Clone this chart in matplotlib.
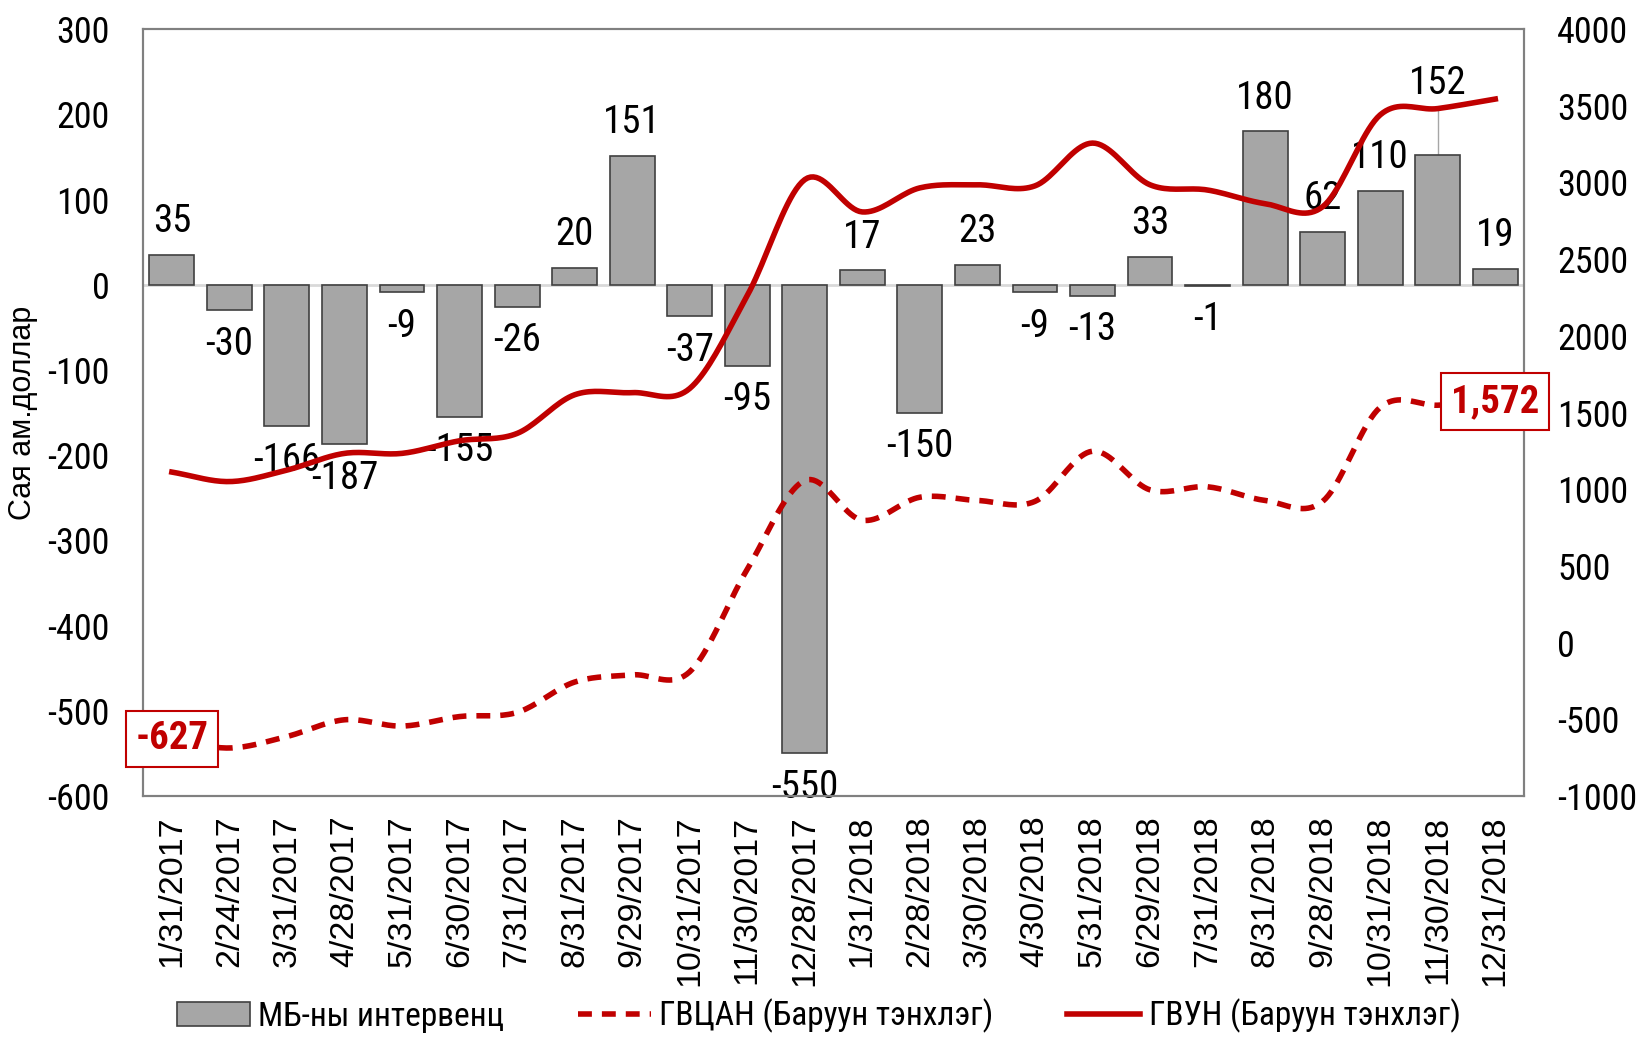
import numpy as np
import matplotlib
matplotlib.use('Agg')
import matplotlib.pyplot as plt
from matplotlib import font_manager
from matplotlib.font_manager import FontProperties
from matplotlib.lines import Line2D
from matplotlib.patches import Patch

installed = {f.name for f in font_manager.fontManager.ttflist}
NARROW = [f for f in ['Liberation Sans Narrow', 'Arial Narrow', 'Roboto Condensed',
                      'PT Sans Narrow', 'Archivo Narrow', 'Open Sans Condensed'] if f in installed][:1] + ['DejaVu Sans']

# Arial-like font for the date ticks and y label, picked by file
files = [f.fname for f in font_manager.fontManager.ttflist]
wide_file = None
for key in ['LiberationSans-Regular', 'Arimo-Regular', 'Arimo[', 'Arial.ttf', 'OpenSans-Regular', 'OpenSans[']:
    hits = [p for p in files if key in p.split('/')[-1]]
    if hits:
        wide_file = hits[0]
        break


def wide(size):
    if wide_file:
        return FontProperties(fname=wide_file, size=size)
    return FontProperties(family='DejaVu Sans', size=size)


plt.rcParams['font.family'] = NARROW
plt.rcParams['axes.unicode_minus'] = False

dates = ['1/31/2017', '2/24/2017', '3/31/2017', '4/28/2017', '5/31/2017', '6/30/2017',
         '7/31/2017', '8/31/2017', '9/29/2017', '10/31/2017', '11/30/2017', '12/28/2017',
         '1/31/2018', '2/28/2018', '3/30/2018', '4/30/2018', '5/31/2018', '6/29/2018',
         '7/31/2018', '8/31/2018', '9/28/2018', '10/31/2018', '11/30/2018', '12/31/2018']
intervention = [35, -30, -166, -187, -9, -155, -26, 20, 151, -37, -95, -550,
                17, -150, 23, -9, -13, 33, -1, 180, 62, 110, 152, 19]
gvtsan = [-627, -687, -612, -503, -544, -482, -455, -257, -210, -190, 478, 1057,
          798, 948, 927, 921, 1248, 996, 1016, 927, 921, 1534, 1548, 1572]
gvun = [1112, 1050, 1125, 1234, 1234, 1316, 1364, 1616, 1630, 1657, 2263, 3019,
        2808, 2965, 2985, 2978, 3257, 2985, 2951, 2862, 2842, 3441, 3482, 3544]

RED = '#C00000'


def smooth(x, y, n=20):
    # Catmull-Rom, close to Excel's smoothed line
    x = np.asarray(x, float); y = np.asarray(y, float)
    px = np.concatenate([[2*x[0]-x[1]], x, [2*x[-1]-x[-2]]])
    py = np.concatenate([[2*y[0]-y[1]], y, [2*y[-1]-y[-2]]])
    xs, ys = [], []
    t = np.linspace(0, 1, n, endpoint=False)
    for i in range(1, len(px)-2):
        for p, out in ((px, xs), (py, ys)):
            p0, p1, p2, p3 = p[i-1], p[i], p[i+1], p[i+2]
            out.extend(0.5*((2*p1) + (-p0+p2)*t + (2*p0-5*p1+4*p2-p3)*t**2
                            + (-p0+3*p1-3*p2+p3)*t**3))
    xs.append(x[-1]); ys.append(y[-1])
    return np.array(xs), np.array(ys)


fig = plt.figure(figsize=(16.37, 10.4), dpi=100)
ax = fig.add_axes([0.0874, 0.2346, 0.8436, 0.7374])
ax2 = ax.twinx()

x = np.arange(len(dates))
ax.bar(x, intervention, width=0.78, color='#A6A6A6', edgecolor='#404040', linewidth=1.2, zorder=2)
ax.axhline(0, color='#D9D9D9', lw=2, zorder=1)

for xi, v in zip(x, intervention):
    if v == 152:
        ax.plot([xi, xi], [v, 205], color='#A6A6A6', lw=1, zorder=1)
        ax.text(xi, 236, str(v), ha='center', va='center', fontsize=28)
        continue
    off = 39 if v >= 0 else -40
    ax.text(xi, v + off, str(v), ha='center', va='center', fontsize=28)

sx, sy = smooth(x, gvtsan)
ax2.plot(sx, sy, color=RED, lw=4, ls=(0, (2.5, 1.8)), zorder=3)
sx, sy = smooth(x, gvun)
ax2.plot(sx, sy, color=RED, lw=4, zorder=3)

box = dict(boxstyle='square,pad=0.25', fc='white', ec=RED, lw=1.5)
ax2.text(x[0], gvtsan[0], '-627', ha='center', va='center', fontsize=28,
         fontweight='bold', color=RED, bbox=box, zorder=5)
ax2.text(x[-1], gvtsan[-1], '1,572', ha='center', va='center', fontsize=28,
         fontweight='bold', color=RED, bbox=box, zorder=5)

ax.set_xlim(-0.5, len(dates) - 0.5)
ax.set_ylim(-600, 300)
ax.set_yticks(range(-600, 301, 100))
ax2.set_ylim(-1000, 4000)
ax2.set_yticks(range(-1000, 4001, 500))
ax.set_xticks(x)
ax.set_xticklabels(dates, rotation=90, fontproperties=wide(24.5))
ax.tick_params(axis='y', length=0, labelsize=26, pad=24)
ax2.tick_params(axis='y', length=0, labelsize=26, pad=24)
ax.tick_params(axis='x', length=0, pad=14)
ax.set_ylabel('Сая ам.доллар', fontproperties=wide(22))
ax.yaxis.set_label_coords(-0.076, 0.5)

for a in (ax, ax2):
    for s in a.spines.values():
        s.set_color('#808080')
        s.set_linewidth(1.5)

handles = [Patch(facecolor='#A6A6A6', edgecolor='#404040', lw=1.2, label='МБ-ны интервенц'),
           Line2D([], [], color=RED, lw=4, ls=(0, (2.5, 1.8)), label='ГВЦАН (Баруун тэнхлэг)'),
           Line2D([], [], color=RED, lw=4, label='ГВУН (Баруун тэнхлэг)')]
fig.legend(handles=handles, loc='center', bbox_to_anchor=(0.5, 0.023), ncol=3, frameon=False,
           fontsize=24, handlelength=2.2, handletextpad=0.25, columnspacing=2.2)

fig.savefig('out.png', dpi=100)
